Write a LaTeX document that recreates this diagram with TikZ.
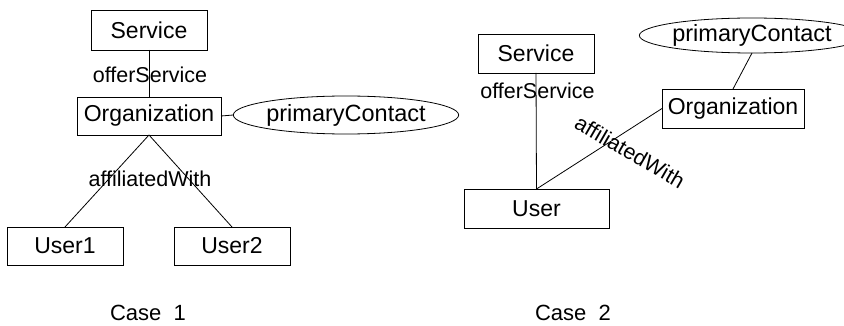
\documentclass[tikz,border=0pt]{standalone}
\usepackage{fontspec}
\setmainfont{Liberation Sans}
\usetikzlibrary{shapes.geometric}
\begin{document}
\begin{tikzpicture}[x=1pt,y=-1pt,
  every node/.style={inner sep=0pt,outer sep=0pt},
  box/.style={draw,line width=0.8pt,font=\fontsize{23}{26}\selectfont},
  attr/.style={draw,ellipse,line width=0.8pt,font=\fontsize{23.5}{26}\selectfont},
  lbl/.style={font=\fontsize{21.5}{24}\selectfont},
  casetitle/.style={font=\fontsize{22}{25}\selectfont},
  link/.style={line width=0.8pt}]
\useasboundingbox (0,0) rectangle (844,326);

% ---- Case 1 ----
\node[box,minimum width=116pt,minimum height=40pt] (s1) at (149,30) {Service};
\node[box,minimum width=144pt,minimum height=38pt] (o1) at (149,116) {Organization};
\node[attr,minimum width=178pt,minimum height=38pt] (p1) at (346,115) {primaryContact};
\node[box,minimum width=116pt,minimum height=38pt] (u1) at (65,246) {User1};
\node[box,minimum width=116pt,minimum height=38pt] (u2) at (232,246) {User2};
\draw[link] (s1.south) -- (o1.north);
\draw[link] (o1.east) -- (p1.west);
\draw[link] (o1.south) -- (u1.north);
\draw[link] (o1.south) -- (u2.north);
\node[lbl] (os1) at (150,75) {offerService};
\node[lbl] (aw1) at (150,179) {affiliatedWith};
\node[casetitle] (c1) at (148,313) {Case\ \ 1};

% ---- Case 2 ----
\node[box,minimum width=116pt,minimum height=39pt] (s2) at (536,53.5) {Service};
\node[box,minimum width=145pt,minimum height=39pt] (u3) at (536.5,208.5) {User};
\node[box,minimum width=142pt,minimum height=39pt] (o2) at (733,108.5) {Organization};
\node[attr,minimum width=175pt,minimum height=35pt] (p2) at (752,35.5) {primaryContact};
\draw[link] (s2.south) -- (u3.north);
\draw[link] (u3.north) -- (o2.west);
\draw[link] (p2.south) -- (o2.north);
\node[lbl] (os2) at (537.5,91) {offerService};
\node[lbl,rotate=-30] (aw2) at (630,152) {affiliatedWith};
\node[casetitle] (c2) at (573,313) {Case\ \ 2};
\end{tikzpicture}
\end{document}
